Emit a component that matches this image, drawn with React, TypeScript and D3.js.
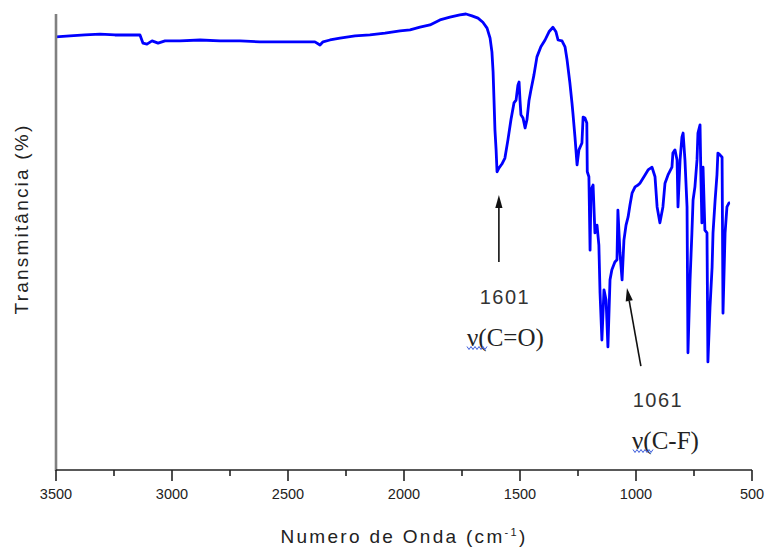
import React from 'react';
import * as d3 from 'd3';

// Wavenumber (cm-1) and transmittance (relative %)
const wavenumber = [
  3500, 3440, 3375, 3310, 3246, 3181, 3138, 3125, 3108, 3086, 3060, 3030, 2966, 2879, 2793, 2707,
  2621, 2534, 2448, 2384, 2362, 2349, 2319, 2276, 2211, 2147, 2082, 2017, 1974, 1931, 1888, 1845,
  1802, 1759, 1733, 1707, 1681, 1660, 1642, 1629, 1621, 1616, 1612, 1608, 1603, 1599, 1591, 1578,
  1565, 1552, 1539, 1526, 1517, 1509, 1504, 1500, 1496, 1487, 1478, 1470, 1461, 1453, 1440, 1427,
  1410, 1392, 1375, 1358, 1345, 1336, 1319, 1306, 1297, 1285, 1276, 1272, 1263, 1254, 1246, 1233,
  1228, 1220, 1212, 1210, 1203, 1198, 1194, 1185, 1177, 1168, 1160, 1155, 1147, 1138, 1129, 1121,
  1112, 1104, 1091, 1082, 1078, 1069, 1060, 1052, 1043, 1034, 1026, 1017, 1004, 991, 983, 961,
  948, 931, 918, 909, 897, 884, 875, 862, 845, 841, 832, 823, 819, 810, 802, 797,
  789, 780, 776, 767, 759, 754, 746, 737, 733, 724, 720, 716, 711, 703, 694, 690,
  681, 672, 668, 659, 651, 647, 638, 629, 625, 616, 608, 599, 595,
];
const transmittance = [
  95.0, 95.2, 95.4, 95.6, 95.4, 95.4, 95.4, 93.6, 93.4, 94.1, 93.6, 94.1, 94.1, 94.3, 94.1, 94.1,
  93.9, 93.9, 93.9, 93.9, 93.2, 93.9, 94.3, 94.7, 95.2, 95.4, 95.8, 96.3, 96.5, 97.1, 97.6, 98.7,
  99.3, 99.8, 100, 99.6, 99.1, 98.2, 96.9, 94.7, 91.7, 87.3, 81.1, 74.6, 70.2, 65.4, 66.2, 67.1,
  68.4, 72.4, 76.8, 80.5, 81.1, 84.4, 85.1, 81.1, 77.9, 77.2, 75.0, 76.8, 81.1, 83.3, 86.6, 90.6,
  92.8, 94.3, 96.1, 97.1, 96.1, 94.3, 94.1, 92.8, 89.9, 84.9, 80.5, 78.3, 73.0, 66.9, 70.2, 71.7,
  77.4, 77.2, 76.1, 65.4, 64.3, 48.2, 61.4, 62.5, 52.0, 53.7, 49.3, 38.8, 28.5, 39.5, 37.3, 27.0,
  41.7, 43.9, 45.6, 46.1, 57.0, 47.6, 41.7, 50.4, 53.7, 55.5, 58.1, 60.7, 62.1, 62.5, 62.9, 64.7,
  65.8, 66.4, 64.3, 57.7, 54.2, 57.7, 62.9, 64.7, 66.4, 69.5, 70.2, 68.0, 57.7, 68.0, 73.0, 73.9,
  68.0, 57.7, 25.7, 41.7, 52.0, 59.2, 62.1, 68.0, 73.9, 75.7, 63.6, 54.2, 66.4, 52.6, 52.0, 23.7,
  35.7, 44.5, 52.0, 59.2, 64.7, 69.5, 69.1, 68.6, 34.4, 52.0, 57.7, 58.6, 58.6,
];

const majorTicks = [3500, 3000, 2500, 2000, 1500, 1000, 500];
const minorTicks = [3250, 2750, 2250, 1750, 1250, 750];

const peakLabels = ['1601', '1061'];
const bondLabels = ['(C=O)', '(C-F)'];

const xTitle = 'Numero de Onda (cm';
const yTitle = 'Transmitância (%)';

const W = 768;
const H = 549;
const left = 56;
const right = 752;
const top = 14;
const bottom = 470;

function Squiggle({ x0, x1, y }: { x0: number; x1: number; y: number }) {
  const pts: [number, number][] = [];
  let up = true;
  for (let x = x0; x <= x1; x += 2) {
    pts.push([x, up ? y - 1.5 : y + 1.5]);
    up = !up;
  }
  return <path d={d3.line()(pts) || ''} fill="none" stroke="#3b5bdb" strokeWidth={1} />;
}

function Arrow({ x1, y1, x2, y2 }: { x1: number; y1: number; x2: number; y2: number }) {
  const ang = Math.atan2(y2 - y1, x2 - x1);
  const len = 13;
  const hw = 3.6;
  const bx = x2 - len * Math.cos(ang);
  const by = y2 - len * Math.sin(ang);
  const px = -Math.sin(ang) * hw;
  const py = Math.cos(ang) * hw;
  return (
    <g>
      <line x1={x1} y1={y1} x2={bx} y2={by} stroke="#111" strokeWidth={1.6} />
      <polygon points={`${x2},${y2} ${bx + px},${by + py} ${bx - px},${by - py}`} fill="#111" />
    </g>
  );
}

export default function App() {
  const x = d3.scaleLinear().domain([3500, 500]).range([left, right]);
  const y = d3.scaleLinear().domain([0, 100]).range([bottom, top]);
  const data = wavenumber.map((w, i) => [w, transmittance[i]] as [number, number]);
  const line = d3
    .line<[number, number]>()
    .x((d) => x(d[0]))
    .y((d) => y(d[1]));

  // annotation anchors (data units)
  const a1 = { x: x(1591), yTip: y(60.3), yTail: y(45.6) };
  const a2 = { x1: x(979), y1: y(22.8), x2: x(1039), y2: y(39.9) };

  return (
    <svg
      width={W}
      height={H}
      style={{ position: 'absolute', left: 0, top: 0, background: '#fff' }}
      fontFamily="Liberation Sans, Arial, sans-serif"
    >
      <rect x={0} y={0} width={W} height={H} fill="#fff" />
      <path d={line(data) || ''} fill="none" stroke="#0000ff" strokeWidth={2.8} strokeLinejoin="round" />

      {/* y axis */}
      <line x1={left} y1={top} x2={left} y2={bottom + 1} stroke="#808080" strokeWidth={2.6} />
      {/* x axis */}
      <line x1={left} y1={bottom} x2={right} y2={bottom} stroke="#222" strokeWidth={1.6} />
      {majorTicks.map((t) => (
        <g key={'M' + t}>
          <line x1={x(t)} y1={bottom} x2={x(t)} y2={bottom + 11} stroke="#222" strokeWidth={1.6} />
          <text x={x(t)} y={bottom + 29} textAnchor="middle" fontSize={14.5} fill="#222">
            {t}
          </text>
        </g>
      ))}
      {minorTicks.map((t) => (
        <line key={'m' + t} x1={x(t)} y1={bottom} x2={x(t)} y2={bottom + 6} stroke="#222" strokeWidth={1.6} />
      ))}

      {/* axis titles */}
      <text x={404} y={543} textAnchor="middle" fontSize={19} fill="#222" letterSpacing={2.3}>
        {xTitle}
        <tspan dy={-7} fontSize={11}>-1</tspan>
        <tspan dy={7}>)</tspan>
      </text>
      <text
        transform="translate(28,219) rotate(-90)"
        textAnchor="middle"
        fontSize={19}
        fill="#222"
        letterSpacing={2.2}
      >
        {yTitle}
      </text>

      {/* annotation 1 */}
      <Arrow x1={a1.x} y1={a1.yTail} x2={a1.x} y2={a1.yTip} />
      <text x={505} y={304} textAnchor="middle" fontSize={20} fill="#333" letterSpacing={1.5}>
        {peakLabels[0]}
      </text>
      <text x={467} y={346} fontSize={25} fill="#222" fontFamily="Liberation Serif, Times New Roman, serif">
        ν{bondLabels[0]}
      </text>
      <Squiggle x0={467} x1={487} y={348} />

      {/* annotation 2 */}
      <Arrow x1={a2.x1} y1={a2.y1} x2={a2.x2} y2={a2.y2} />
      <text x={658} y={407} textAnchor="middle" fontSize={20} fill="#333" letterSpacing={1.5}>
        {peakLabels[1]}
      </text>
      <text x={632} y={449} fontSize={25} fill="#222" fontFamily="Liberation Serif, Times New Roman, serif">
        ν{bondLabels[1]}
      </text>
      <Squiggle x0={633} x1={653} y={451} />
    </svg>
  );
}
